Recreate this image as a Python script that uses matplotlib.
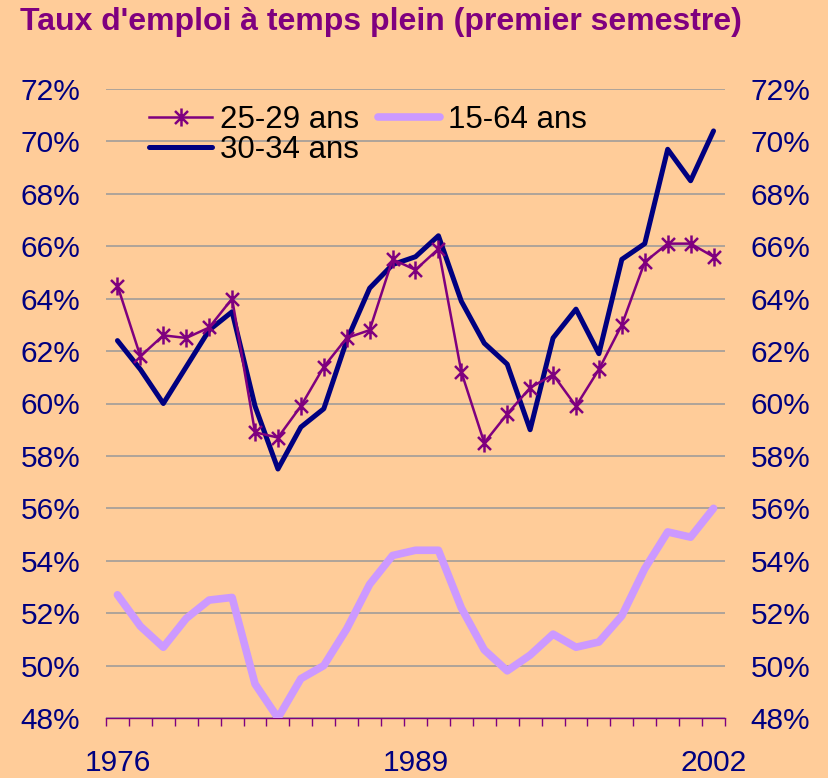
import numpy as np
import matplotlib.pyplot as plt
from matplotlib.path import Path
from matplotlib.ticker import FixedLocator, PercentFormatter

plt.rcParams['font.family'] = ['Liberation Sans', 'DejaVu Sans']

years = list(range(1976, 2003))

# taux d'emploi a temps plein (%)
ans_25_29 = [64.5, 61.8, 62.6, 62.5, 62.9, 64.0, 58.9, 58.7, 59.9, 61.4, 62.5, 62.8, 65.5,
             65.1, 65.9, 61.2, 58.5, 59.6, 60.6, 61.1, 59.9, 61.3, 63.0, 65.4, 66.1, 66.1, 65.6]
ans_30_34 = [62.4, 61.3, 60.0, 61.4, 62.8, 63.5, 59.9, 57.5, 59.1, 59.8, 62.4, 64.4, 65.3,
             65.6, 66.4, 63.9, 62.3, 61.5, 59.0, 62.5, 63.6, 61.9, 65.5, 66.1, 69.7, 68.5, 70.4]
ans_15_64 = [52.7, 51.5, 50.7, 51.8, 52.5, 52.6, 49.3, 48.0, 49.5, 50.0, 51.4, 53.1, 54.2,
             54.4, 54.4, 52.2, 50.6, 49.8, 50.4, 51.2, 50.7, 50.9, 51.9, 53.7, 55.1, 54.9, 56.0]
labeled_years = [1976, 1989, 2002]

bg = '#FFCC99'
purple = '#7F007F'
navy = '#000080'
lilac = '#CC99FF'

# excel style star: vertical bar + X
star = Path([(0, -1), (0, 1), (-0.72, -0.72), (0.72, 0.72), (-0.72, 0.72), (0.72, -0.72)],
            [Path.MOVETO, Path.LINETO, Path.MOVETO, Path.LINETO, Path.MOVETO, Path.LINETO])

fig = plt.figure(figsize=(8.29, 7.78), dpi=100, facecolor=bg)
ax = fig.add_axes([106 / 829, 1 - 718 / 778, 619 / 829, 629 / 778])
ax.set_facecolor(bg)

x = np.arange(len(years))
l1, = ax.plot(x, ans_25_29, color=purple, lw=1.8, marker=star, markersize=13,
              markeredgewidth=1.8, markerfacecolor='none', markeredgecolor=purple,
              label='25-29 ans', zorder=4)
l3, = ax.plot(x, ans_15_64, color=lilac, lw=5.5, solid_joinstyle='round',
              solid_capstyle='round', label='15-64 ans', zorder=3)
l2, = ax.plot(x, ans_30_34, color=navy, lw=3.6, solid_joinstyle='round',
              solid_capstyle='round', label='30-34 ans', zorder=3)

ax.set_xlim(-0.5, len(years) - 0.5)
ax.set_ylim(48, 72)
ax.set_yticks(np.arange(48, 73, 2))
ax.yaxis.set_major_formatter(PercentFormatter(decimals=0))
ax.tick_params(axis='y', length=0, labelsize=21.5, labelcolor=navy, pad=18.5,
               labelleft=True, labelright=True)
ax.grid(axis='y', color='#999999', lw=1.1, zorder=0)

ax.set_xticks([years.index(y) for y in labeled_years])
ax.set_xticklabels([str(y) for y in labeled_years])
ax.xaxis.set_minor_locator(FixedLocator(np.arange(-0.5, len(years), 1)))
ax.tick_params(axis='x', which='major', length=0, labelsize=21.5, labelcolor=navy, pad=22)
ax.tick_params(axis='x', which='minor', length=6, width=1, color=purple, direction='out')

for s in ['left', 'right', 'top']:
    ax.spines[s].set_visible(False)
ax.spines['bottom'].set_color(purple)
ax.spines['bottom'].set_linewidth(1)

ax.legend(handles=[l1, l2, l3], loc='upper left', bbox_to_anchor=(0.07, 0.974), ncol=2,
          frameon=False, fontsize=22.5, handlelength=2.0, handletextpad=0.25,
          columnspacing=0.6, labelspacing=0.0, borderpad=0, borderaxespad=0)

fig.text(20 / 829, 1 - 7 / 778, "Taux d'emploi à temps plein (premier semestre)",
         color=purple, fontsize=23, fontweight='bold', va='top', ha='left')

fig.savefig('out.png', dpi=100, facecolor=bg)
